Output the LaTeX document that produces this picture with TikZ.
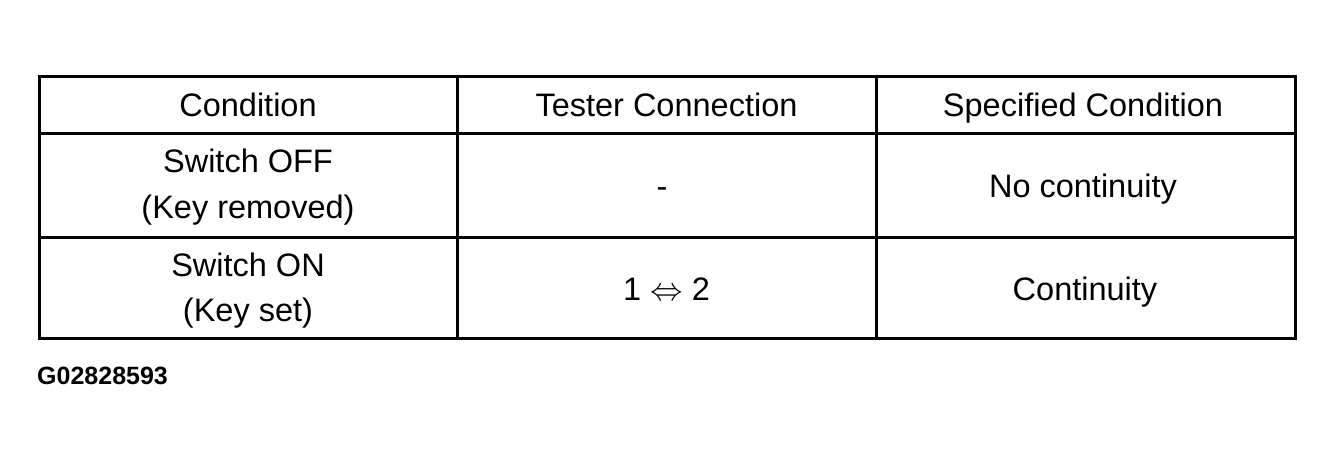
\documentclass[tikz,border=0pt]{standalone}
\usepackage{fix-cm}
\usepackage{fontspec}
\setmainfont{Liberation Sans}
\begin{document}
\begin{tikzpicture}[x=1pt,y=-1pt,
  cell/.style={inner sep=0pt,anchor=base,font=\fontsize{32.5}{47}\selectfont},
  grid/.style={line width=3pt,line cap=rect},
  code/.style={inner sep=0pt,anchor=base west,font=\fontsize{25}{29}\selectfont\bfseries}]
\useasboundingbox (0,0) rectangle (1334,460);
\draw[grid] (39,77) rectangle (1295,338);
\draw[grid] (39,133) -- (1295,133);
\draw[grid] (39,237) -- (1295,237);
\draw[grid] (457,77) -- (457,338);
\draw[grid] (876,77) -- (876,338);
\node[cell] (h1) at (248,116.5) {Condition};
\node[cell] (h2) at (666.5,116.5) {Tester Connection};
\node[cell] (h3) at (1083,116.5) {Specified Condition};
\node[cell] (r1c1a) at (248,172) {Switch OFF};
\node[cell] (r1c1b) at (248,218) {(Key removed)};
\node[cell] (r1c2) at (662,197) {-};
\node[cell] (r1c3) at (1083,197) {No continuity};
\node[cell] (r2c1a) at (248,276) {Switch ON};
\node[cell] (r2c1b) at (248,321) {(Key set)};
\node[cell] (r2c2) at (666.5,300.5) {1 $\Leftrightarrow$ 2};
\node[cell] (r2c3) at (1085,300.5) {Continuity};
\node[code] (lbl) at (37,384) {G02828593};
\end{tikzpicture}
\end{document}
